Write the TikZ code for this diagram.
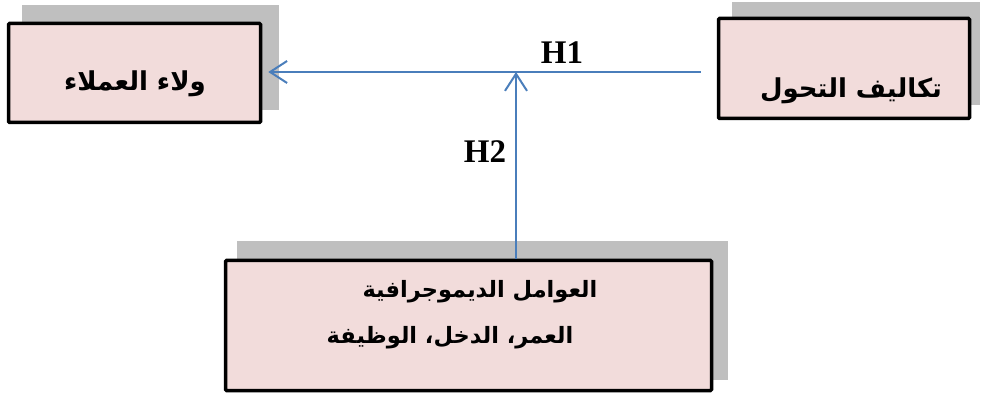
\documentclass[tikz,border=0pt]{standalone}
\usepackage{fontspec}
\setmainfont{Liberation Serif}
\newfontfamily\arabicfont[Script=Arabic]{DejaVu Sans}
\TeXXeTstate=1
\usetikzlibrary{arrows.meta}
\definecolor{boxpink}{HTML}{F2DCDB}
\definecolor{shadowgray}{HTML}{BFBFBF}
\definecolor{arrowblue}{HTML}{4A7EBB}
\begin{document}
\begin{tikzpicture}[x=1pt,y=-1pt,
  shadowbox/.style={fill=shadowgray, draw=none},
  mainbox/.style={fill=boxpink, draw=black, line width=3.5pt, rounded corners=1pt, inner sep=0pt},
  artext/.style={font=\arabicfont\bfseries\fontsize{26}{30}\selectfont, inner sep=0pt},
  artextb/.style={font=\arabicfont\bfseries\fontsize{22.5}{26}\selectfont, inner sep=0pt},
  hlabel/.style={font=\bfseries\fontsize{33}{36}\selectfont, inner sep=0pt},
  link/.style={draw=arrowblue, line width=2pt, -{Straight Barb[length=17pt,width=22pt,line width=2pt]}}
]
\useasboundingbox (0,0) rectangle (982,395);
% shadows
\fill[shadowbox] (22,5) rectangle (279,110);
\fill[shadowbox] (732,2) rectangle (980,105);
\fill[shadowbox] (237,241) rectangle (728,380);
% boxes
\node[mainbox, minimum width=252pt, minimum height=99pt] (lbox) at (134.5,73) {};
\node[mainbox, minimum width=251pt, minimum height=100pt] (rbox) at (844,68.5) {};
\node[mainbox, minimum width=486pt, minimum height=130pt] (bbox) at (468.5,325.5) {};
% texts
\node[artext] (ltxt) at (135,84) {\beginR ولاء العملاء\endR};
\node[artext] (rtxt) at (851,91) {\beginR تكاليف التحول\endR};
\node[artextb] (btxt1) at (480,292) {\beginR العوامل الديموجرافية\endR};
\node[artextb] (btxt2) at (450,338) {\beginR العمر، الدخل، الوظيفة\endR};
% connectors
\coordinate (j) at (516,72);
\draw[link, shorten <=16pt, shorten >=6pt] (rbox.west |- j) -- (lbox.east |- j);
\draw[link] (j |- bbox.north) -- (j);
% labels
\node[hlabel] (h1) at (562,53) {H1};
\node[hlabel] (h2) at (485,152) {H2};
\end{tikzpicture}
\end{document}
